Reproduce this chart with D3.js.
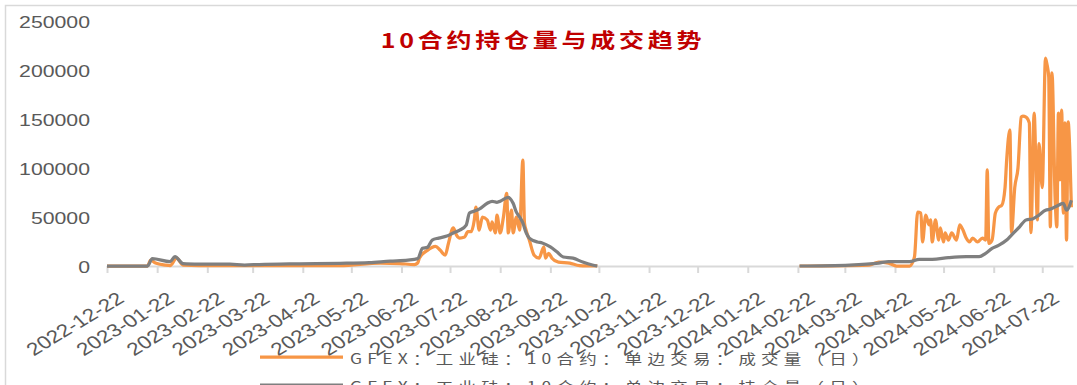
<!DOCTYPE html>
<html>
<head>
<meta charset="utf-8">
<script src="https://cdn.jsdelivr.net/npm/d3@7"></script>
<style>
  body { margin: 0; background: #fff; }
  svg { display: block; }
</style>
</head>
<body>
<svg width="1077" height="385"></svg>
<script>
var chartTitle = "10合约持仓量与成交趋势";
var seriesNames = ["GFEX：工业硅：10合约：单边交易：成交量（日）", "GFEX：工业硅：10合约：单边交易：持仓量（日）"];

// 成交量 (daily volume), null = no contract traded
var volumeDates = [
  "2022-12-22","2023-01-16","2023-01-18","2023-01-21","2023-01-27","2023-01-30","2023-02-03","2023-02-07",
  "2023-02-17","2023-03-20","2023-05-15","2023-06-09","2023-06-21","2023-06-30","2023-07-02","2023-07-03",
  "2023-07-08","2023-07-13","2023-07-16","2023-07-19","2023-07-21","2023-07-24","2023-07-26","2023-07-28",
  "2023-07-31","2023-08-02","2023-08-04","2023-08-06","2023-08-07","2023-08-09","2023-08-11","2023-08-14",
  "2023-08-16","2023-08-17","2023-08-19","2023-08-20","2023-08-22","2023-08-24","2023-08-26","2023-08-27",
  "2023-08-29","2023-08-30","2023-09-01","2023-09-03","2023-09-05","2023-09-06","2023-09-07","2023-09-09",
  "2023-09-12","2023-09-15","2023-09-18","2023-09-19","2023-09-21","2023-09-23","2023-09-27","2023-10-04",
  "2023-10-10","2023-10-21",
  "2023-12-15",
  "2024-02-23","2024-04-06","2024-04-12","2024-04-18","2024-04-23","2024-05-01","2024-05-04","2024-05-06",
  "2024-05-08","2024-05-09","2024-05-11","2024-05-13","2024-05-14","2024-05-15","2024-05-17","2024-05-19",
  "2024-05-20","2024-05-22","2024-05-23","2024-05-25","2024-05-27","2024-05-30","2024-06-01","2024-06-03",
  "2024-06-05","2024-06-07","2024-06-09","2024-06-12","2024-06-15","2024-06-17","2024-06-18","2024-06-19",
  "2024-06-21","2024-06-23","2024-06-25","2024-06-27","2024-06-29","2024-06-30","2024-07-02","2024-07-03",
  "2024-07-05","2024-07-07","2024-07-09","2024-07-10","2024-07-12","2024-07-14","2024-07-15","2024-07-17",
  "2024-07-19","2024-07-20","2024-07-22","2024-07-24","2024-07-25","2024-07-26","2024-07-27","2024-07-28",
  "2024-07-30","2024-07-31","2024-08-01","2024-08-02","2024-08-03","2024-08-04","2024-08-05","2024-08-06",
  "2024-08-07","2024-08-08","2024-08-09"
];
var volume = [
  0, 0, 6000, 3000, 1000, 500, 8000, 1000,
  500, 400, 500, 3000, 2500, 1500, 3000, 8000,
  16000, 20000, 16000, 11000, 23000, 39000, 31600, 28500,
  29500, 35000, 35000, 47000, 60000, 36700, 50000, 47000,
  36700, 45000, 33700, 52000, 33700, 50000, 74000, 33700,
  57000, 33700, 50000, 36700, 108000, 44000, 36700, 26500,
  11000, 8000, 19500, 8000, 13000, 8000, 4000, 3000,
  500, 0,
  null,
  0, 1000, 4000, 3000, 0, 0, 9000, 55000,
  54000, 24500, 52000, 42000, 47000, 24500, 47000, 26500,
  39000, 24500, 33700, 26500, 33700, 26500, 42000, 36700,
  28500, 24500, 28500, 24500, 28500, 26500, 98000, 23000,
  26500, 54000, 60000, 62000, 80000, 108000, 139000, 34000,
  80000, 100000, 152000, 153000, 152000, 146000, 34000, 156000,
  47000, 125000, 80000, 212000, 205000, 193000, 40000, 197000,
  67000, 40000, 156000, 88000, 159000, 54000, 146000, 26500,
  147000, 118000, 60000
];

// 持仓量 (daily open interest)
var oiDates = [
  "2022-12-22","2023-01-16","2023-01-19","2023-01-30","2023-02-02","2023-02-07","2023-02-17","2023-03-08",
  "2023-03-17","2023-03-26","2023-04-20","2023-05-15","2023-06-02","2023-06-15","2023-06-26","2023-07-02",
  "2023-07-05","2023-07-08","2023-07-11","2023-07-15","2023-07-20","2023-07-24","2023-07-28","2023-08-01",
  "2023-08-03","2023-08-06","2023-08-09","2023-08-14","2023-08-17","2023-08-20","2023-08-22","2023-08-24",
  "2023-08-27","2023-08-28","2023-08-30","2023-09-01","2023-09-03","2023-09-05","2023-09-07","2023-09-09",
  "2023-09-14","2023-09-17","2023-09-22","2023-09-26","2023-09-30","2023-10-06","2023-10-12","2023-10-18",
  "2023-10-21",
  "2023-12-15",
  "2024-02-23","2024-03-25","2024-04-12","2024-04-18","2024-05-01","2024-05-07","2024-05-15","2024-05-25",
  "2024-06-05","2024-06-13","2024-06-17","2024-06-21","2024-06-25","2024-06-30","2024-07-03","2024-07-08",
  "2024-07-12","2024-07-16","2024-07-20","2024-07-24","2024-07-27","2024-08-01","2024-08-04","2024-08-06",
  "2024-08-09"
];
var openInterest = [
  0, 0, 7500, 4500, 9500, 2500, 2000, 1800,
  1000, 1500, 2200, 2700, 3500, 5000, 6000, 7500,
  18000, 19000, 26500, 28500, 30600, 33700, 36700, 41800,
  54000, 56000, 58000, 64000, 66000, 65000, 66000, 68000,
  70000, 69000, 64000, 55000, 50000, 44000, 34000, 28500,
  24500, 23500, 19500, 14500, 9200, 8000, 4000, 1000,
  0,
  null,
  0, 1000, 3000, 4400, 4400, 6800, 6800, 8500,
  9500, 9500, 13000, 18000, 21000, 26500, 31600, 40000,
  47000, 48000, 52000, 57000, 58000, 62000, 64000, 57000,
  67000
];

var monthTicks = [
  "2022-12-22","2023-01-22","2023-02-22","2023-03-22","2023-04-22","2023-05-22","2023-06-22",
  "2023-07-22","2023-08-22","2023-09-22","2023-10-22","2023-11-22","2023-12-22","2024-01-22",
  "2024-02-22","2024-03-22","2024-04-22","2024-05-22","2024-06-22","2024-07-22"
];
var yTicks = [0, 50000, 100000, 150000, 200000, 250000];

var colors = ["#F79646", "#7F7F7F"];
var stretch = 1.25;
var numFont = "Arial, 'Liberation Sans', sans-serif";
var cjkFont = "'Noto Sans CJK SC', sans-serif";

var svg = d3.select("svg");
var parse = d3.timeParse("%Y-%m-%d");

function toPoints(dates, values) {
  return dates.map(function (d, i) { return { date: parse(d), value: values[i] }; });
}
var volumePts = toPoints(volumeDates, volume),
    oiPts = toPoints(oiDates, openInterest);

var x = d3.scaleTime()
    .domain([parse("2022-12-22"), parse("2024-08-10")])
    .range([107, 1073]);
var y = d3.scaleLinear()
    .domain([0, 250000])
    .range([266, 21]);

// frame
svg.append("rect")
    .attr("x", 5.5).attr("y", 5.5)
    .attr("width", 1100).attr("height", 400)
    .attr("fill", "none")
    .attr("stroke", "#D9D9D9")
    .attr("stroke-width", 1.5);

// title
svg.append("g")
    .attr("transform", "translate(543,48) scale(" + stretch + ",1)")
  .append("text")
    .attr("text-anchor", "middle")
    .attr("font-family", cjkFont)
    .attr("font-weight", "bold")
    .attr("font-size", "20px")
    .attr("letter-spacing", "3px")
    .attr("fill", "#C00000")
    .text(chartTitle);

// y axis (labels only)
var yAxis = svg.append("g")
    .attr("transform", "translate(107,0)")
    .call(d3.axisLeft(y).tickValues(yTicks).tickSize(0).tickFormat(d3.format("d")));
yAxis.select(".domain").remove();
yAxis.selectAll("text")
    .attr("x", 0)
    .attr("dy", "0.36em")
    .attr("transform", "translate(-17,0) scale(" + stretch + ",1)")
    .attr("font-family", numFont)
    .attr("font-size", "17px")
    .attr("fill", "#595959");

// x axis
var xAxis = svg.append("g")
    .attr("transform", "translate(0,266)")
    .call(d3.axisBottom(x)
        .tickValues(monthTicks.map(parse))
        .tickSize(7)
        .tickSizeOuter(0)
        .tickFormat(d3.timeFormat("%Y-%m-%d")));
xAxis.select(".domain").attr("stroke", "#D9D9D9").attr("stroke-width", 2);
xAxis.selectAll(".tick line").attr("stroke", "#D9D9D9").attr("stroke-width", 2);
xAxis.selectAll("text")
    .attr("y", 0)
    .attr("dy", 0)
    .attr("text-anchor", "end")
    .attr("transform", "translate(18,35) scale(" + stretch + ",1) rotate(-37)")
    .attr("font-family", numFont)
    .attr("font-size", "18px")
    .attr("fill", "#595959");

// lines
var line = d3.line()
    .defined(function (d) { return d.value != null; })
    .x(function (d) { return x(d.date); })
    .y(function (d) { return y(d.value); })
    .curve(d3.curveMonotoneX);

[volumePts, oiPts].forEach(function (pts, i) {
  svg.append("path")
      .datum(pts)
      .attr("fill", "none")
      .attr("stroke", colors[i])
      .attr("stroke-width", 3.25)
      .attr("stroke-linejoin", "round")
      .attr("d", line);
});

// legend
var legend = svg.selectAll(".legend")
    .data(seriesNames)
    .enter().append("g")
    .attr("class", "legend")
    .attr("transform", function (d, i) { return "translate(0," + (357 + i * 28) + ")"; });
legend.append("line")
    .attr("x1", 260).attr("x2", 343)
    .attr("stroke", function (d, i) { return colors[i]; })
    .attr("stroke-width", 3.25);
legend.append("g")
    .attr("transform", "translate(350,7) scale(" + stretch + ",1)")
  .append("text")
    .attr("font-family", cjkFont)
    .attr("font-size", "14px")
    .attr("letter-spacing", "4.2px")
    .attr("fill", "#595959")
    .text(function (d) { return d; });
</script>
</body>
</html>
